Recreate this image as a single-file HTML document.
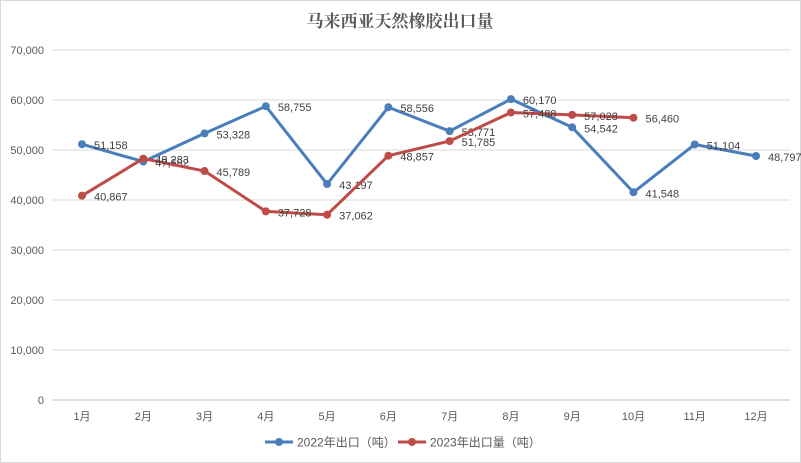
<!DOCTYPE html>
<html><head><meta charset="utf-8"><style>
body{margin:0;background:#fff}
svg{display:block;font-family:"Liberation Sans","Noto Sans CJK SC",sans-serif}
</style></head><body>
<svg id="chart" width="801" height="463" viewBox="0 0 801 463">
<rect x="0.5" y="0.5" width="800" height="462" fill="#fff" stroke="#d9d9d9"/>
<text x="400" y="27" text-anchor="middle" font-size="17" font-weight="bold" fill="#595959" font-family="'Noto Serif CJK SC','Noto Sans CJK SC',serif">马来西亚天然橡胶出口量</text>
<g id="grid"></g><g id="axis"></g><g id="series"></g>
<g>
<g><line x1="265" y1="442" x2="293" y2="442" stroke="#4a7ebb" stroke-width="3"/><circle cx="279" cy="442" r="4" fill="#4a7ebb"/><text x="297" y="446.5" font-size="12" fill="#595959">2022年出口（吨）</text></g>
<g><line x1="398" y1="442" x2="426" y2="442" stroke="#be4b48" stroke-width="3"/><circle cx="412" cy="442" r="4" fill="#be4b48"/><text x="430" y="446.5" font-size="12" fill="#595959">2023年出口量（吨）</text></g>
</g>
</svg>
<script>
const categories=["1月","2月","3月","4月","5月","6月","7月","8月","9月","10月","11月","12月"];
const s2022=[51158,47682,53328,58755,43197,58556,53771,60170,54542,41548,51104,48797];
const s2023=[40867,48283,45789,37728,37062,48857,51785,57488,57028,56460];
const ticks=[0,10000,20000,30000,40000,50000,60000,70000];
const NS="http://www.w3.org/2000/svg";
const X=i=>82+i*(756-82)/11, Y=v=>400-v*350/70000;
function mk(t,a,p){const e=document.createElementNS(NS,t);for(const k in a)e.setAttribute(k,a[k]);p.appendChild(e);return e;}
const grid=document.getElementById('grid'),axis=document.getElementById('axis'),ser=document.getElementById('series');
const fmt=v=>v.toLocaleString('en-US');
ticks.forEach(t=>{
 const l=mk('line',{x1:52,x2:790,y1:Y(t),y2:Y(t),stroke:t?'#d9d9d9':'#bfbfbf'},grid);
 
 
 const tx=mk('text',{x:44,y:Y(t)+4,'text-anchor':'end','font-size':11,fill:'#595959'},axis);
 tx.textContent=fmt(t);
 
 
});
categories.forEach((c,i)=>{
 const tx=mk('text',{x:X(i),y:420,'text-anchor':'middle','font-size':11,fill:'#595959'},axis);
 tx.textContent=c;
 
 
});
function draw(data,color,name){
 const g=mk('g',{},ser);
 
 
 const pl=mk('polyline',{points:data.map((v,i)=>X(i)+','+Y(v)).join(' '),fill:'none',stroke:color,'stroke-width':3,'stroke-linejoin':'round'},g);
 
 
 data.forEach((v,i)=>{
  const c=mk('circle',{cx:X(i),cy:Y(v),r:4,fill:color},g);
  
  
  const t=mk('text',{x:X(i)+12,y:Y(v)+5,'font-size':11,fill:'#404040'},g);
  t.textContent=fmt(v);
  
  
 });
}
draw(s2022,'#4a7ebb','2022');
draw(s2023,'#be4b48','2023');
</script>
</body></html>
